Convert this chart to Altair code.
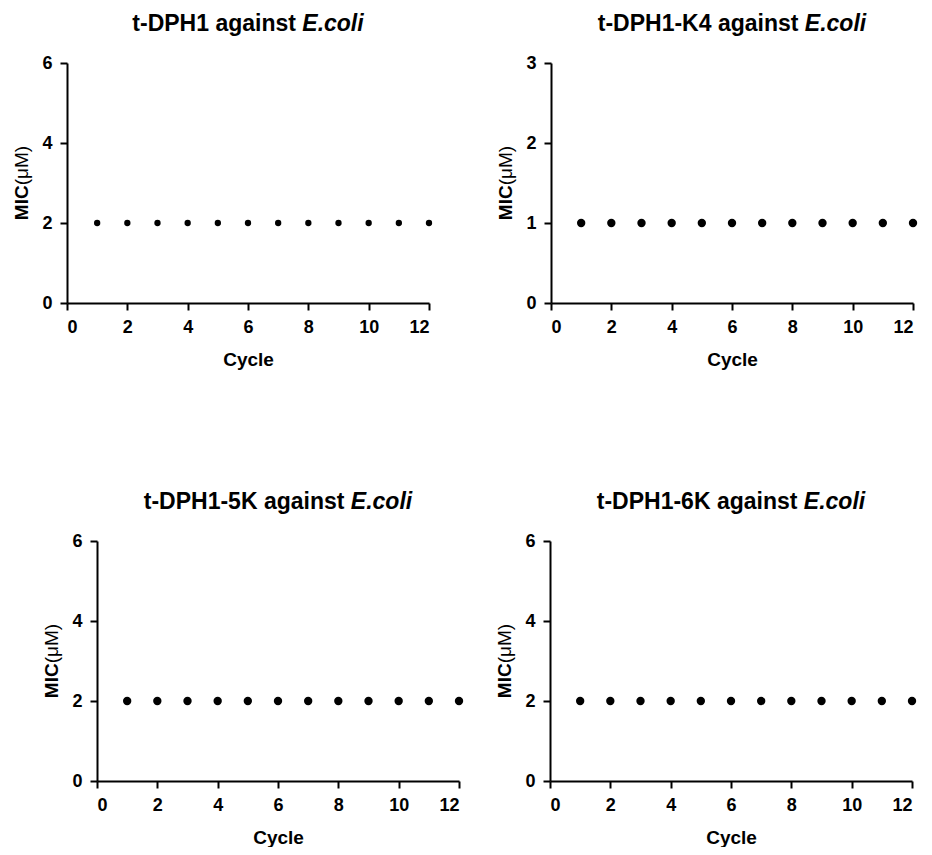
import altair as alt
import pandas as pd

# ---------------- data ----------------
cycles = [1, 2, 3, 4, 5, 6, 7, 8, 9, 10, 11, 12]
mic_dph1 = [2, 2, 2, 2, 2, 2, 2, 2, 2, 2, 2, 2]
mic_dph1_k4 = [1, 1, 1, 1, 1, 1, 1, 1, 1, 1, 1, 1]
mic_dph1_5k = [2, 2, 2, 2, 2, 2, 2, 2, 2, 2, 2, 2]
mic_dph1_6k = [2, 2, 2, 2, 2, 2, 2, 2, 2, 2, 2, 2]

peptides = ["t-DPH1", "t-DPH1-K4", "t-DPH1-5K", "t-DPH1-6K"]
organism = "E.coli"
y_max = [6, 3, 6, 6]
y_ticks = [[0, 2, 4, 6], [0, 1, 2, 3], [0, 2, 4, 6], [0, 2, 4, 6]]
x_ticks = [0, 2, 4, 6, 8, 10, 12]
x_title = "Cycle"
y_title_bold = "MIC"
y_title_unit = "(\u03bcM)"
point_sizes = [40, 70, 70, 70]

FONT = "Liberation Sans"
W, H = 362, 240
TITLE_FS = 23
AX_FS = 19
TICK_FS = 18
SHIFT = [0, 0, 30, 0]   # bottom-left panel sits further right in the figure

# Arial / Liberation Sans Bold advance widths (per 1000 em)
BOLD_W = {" ": 278, "-": 333, ".": 278, "1": 556, "4": 556, "5": 556, "6": 556,
          "D": 722, "E": 667, "H": 722, "K": 722, "P": 667, "M": 833, "I": 278,
          "C": 722, "a": 556, "c": 556, "g": 611, "i": 278, "l": 278, "n": 611,
          "o": 611, "s": 556, "t": 333}
REG_W = {"(": 333, ")": 333, "\u03bc": 576, "M": 833}


def tw(s, table, fs):
    return sum(table.get(ch, 556) for ch in s) / 1000 * fs


def panel(i, values):
    sh = SHIFT[i]
    df = pd.DataFrame({"cycle": cycles, "mic": values})
    xscale = alt.Scale(domain=[0, 12], nice=False, zero=False)
    yaxis = dict(values=y_ticks[i], title=None, format="d")
    if sh:
        xscale = alt.Scale(domain=[0, 12], nice=False, zero=False, range=[sh, W + sh])
        yaxis["offset"] = -sh
    pts = alt.Chart(df).mark_circle(color="black", opacity=1, size=point_sizes[i]).encode(
        x=alt.X("cycle:Q", scale=xscale,
                axis=alt.Axis(values=x_ticks, title=x_title, format="d")),
        y=alt.Y("mic:Q",
                scale=alt.Scale(domain=[0, y_max[i]], nice=False),
                axis=alt.Axis(**yaxis)),
    )

    one = pd.DataFrame({"k": [0]})
    # chart title: bold part + italic organism
    left = peptides[i] + " against"
    wl = tw(left, BOLD_W, TITLE_FS)
    ws = tw(" ", BOLD_W, TITLE_FS)
    wr = tw(organism, BOLD_W, TITLE_FS)
    x0 = sh + W / 2 - (wl + ws + wr) / 2
    t1 = alt.Chart(one).mark_text(text=left, font=FONT, fontWeight="bold", fontSize=TITLE_FS,
                                  align="right", baseline="middle", color="black").encode(
        x=alt.value(x0 + wl), y=alt.value(-39))
    t2 = alt.Chart(one).mark_text(text=organism, font=FONT, fontWeight="bold", fontStyle="italic",
                                  fontSize=TITLE_FS, align="left", baseline="middle",
                                  color="black").encode(
        x=alt.value(x0 + wl + ws), y=alt.value(-39))

    # y title: bold "MIC" + regular unit, rotated
    wb = tw(y_title_bold, BOLD_W, AX_FS)
    wu = tw(y_title_unit, REG_W, AX_FS)
    split = H / 2 + (wb + wu) / 2 - wb
    y1 = alt.Chart(one).mark_text(text=y_title_bold, font=FONT, fontWeight="bold", fontSize=AX_FS,
                                  angle=270, align="right", baseline="middle", color="black").encode(
        x=alt.value(sh - 45), y=alt.value(split))
    y2 = alt.Chart(one).mark_text(text=y_title_unit, font=FONT, fontWeight="normal", fontSize=AX_FS,
                                  angle=270, align="left", baseline="middle", color="black").encode(
        x=alt.value(sh - 45), y=alt.value(split))

    return alt.layer(pts, t1, t2, y1, y2).properties(width=W + sh, height=H)


p1 = panel(0, mic_dph1)
p2 = panel(1, mic_dph1_k4)
p3 = panel(2, mic_dph1_5k)
p4 = panel(3, mic_dph1_6k)

top = alt.hconcat(p1, p2, spacing=64)
bottom = alt.hconcat(p3, p4, spacing=32)

chart = alt.vconcat(top, bottom, spacing=122).properties(
    background="white",
    padding={"left": 5, "top": 5, "right": 0, "bottom": 0},
).configure_view(stroke=None).configure_axis(
    domainColor="black", domainWidth=2, tickColor="black", tickWidth=2, tickSize=7,
    labelFont=FONT, labelFontWeight="bold", labelFontSize=TICK_FS, labelColor="black",
    labelPadding=8, titleFont=FONT, titleFontWeight="bold", titleFontSize=AX_FS,
    titleColor="black", grid=False, titlePadding=14,
)

chart.save("out.html", embed_options={"renderer": "svg", "actions": False})
